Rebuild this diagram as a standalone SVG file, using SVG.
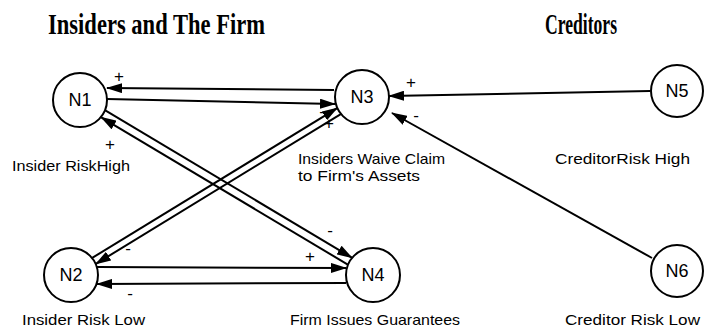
<svg xmlns="http://www.w3.org/2000/svg" width="716" height="331" viewBox="0 0 716 331">
<style>
.title{font-family:"Liberation Serif",serif;font-weight:bold;font-size:29px;fill:#000}
.node circle{fill:#fff;stroke:#000;stroke-width:2}
.node text{font-family:"Liberation Sans",Arial,sans-serif;font-size:18px;fill:#000;text-anchor:middle}
.lbl{font-family:"Liberation Sans",Arial,sans-serif;font-size:15px;fill:#000}
.sign{font-family:"Liberation Sans",Arial,sans-serif;font-size:17px;fill:#000;text-anchor:middle}
.edges line{stroke:#000;stroke-width:2;fill:none}
</style>
<defs>
<marker id="ah" markerWidth="16" markerHeight="10" refX="15" refY="5" orient="auto" markerUnits="userSpaceOnUse">
<path d="M0,0 L16,5 L0,10 Z" fill="#000"/>
</marker>
</defs>
<rect width="716" height="331" fill="#fff"/>
<text class="title" x="48" y="34" textLength="217" lengthAdjust="spacingAndGlyphs">Insiders and The Firm</text>
<text class="title" x="545" y="34" textLength="72" lengthAdjust="spacingAndGlyphs">Creditors</text>
<g class="edges">
<line x1="334" y1="90" x2="107" y2="88" marker-end="url(#ah)"/>
<line x1="107" y1="99" x2="335" y2="104" marker-end="url(#ah)"/>
<line x1="92.2" y1="257.9" x2="337.2" y2="108.1" marker-end="url(#ah)"/>
<line x1="340.8" y1="114.1" x2="95.8" y2="263.9" marker-end="url(#ah)"/>
<line x1="347.8" y1="264.6" x2="101.2" y2="117.3" marker-end="url(#ah)"/>
<line x1="105.3" y1="110.4" x2="351.9" y2="257.7" marker-end="url(#ah)"/>
<line x1="97" y1="267" x2="346" y2="268" marker-end="url(#ah)"/>
<line x1="346" y1="283" x2="97" y2="284" marker-end="url(#ah)"/>
<line x1="650" y1="91" x2="389" y2="96" marker-end="url(#ah)"/>
<line x1="652" y1="258" x2="392" y2="113" marker-end="url(#ah)"/>
</g>
<g class="signs">
<text class="sign" x="119" y="82">+</text>
<text class="sign" x="322" y="117">-</text>
<text class="sign" x="329" y="129">+</text>
<text class="sign" x="110" y="150">+</text>
<text class="sign" x="128" y="254">-</text>
<text class="sign" x="330" y="236">-</text>
<text class="sign" x="310" y="262">+</text>
<text class="sign" x="130" y="299">-</text>
<text class="sign" x="411" y="88">+</text>
<text class="sign" x="416" y="121">-</text>
</g>
<g id="N1" class="node"><circle cx="80" cy="100" r="27"/><text x="80" y="106">N1</text></g>
<g id="N3" class="node"><circle cx="362" cy="97" r="27"/><text x="362" y="103">N3</text></g>
<g id="N5" class="node"><circle cx="677" cy="91" r="26"/><text x="677" y="97">N5</text></g>
<g id="N2" class="node"><circle cx="71" cy="275" r="27"/><text x="71" y="281">N2</text></g>
<g id="N4" class="node"><circle cx="373" cy="275" r="27"/><text x="373" y="281">N4</text></g>
<g id="N6" class="node"><circle cx="677" cy="271" r="26"/><text x="677" y="277">N6</text></g>
<text class="lbl" x="12" y="171" textLength="118" lengthAdjust="spacingAndGlyphs">Insider RiskHigh</text>
<text class="lbl" x="298" y="164" textLength="147" lengthAdjust="spacingAndGlyphs">Insiders Waive Claim</text>
<text class="lbl" x="298" y="181" textLength="122" lengthAdjust="spacingAndGlyphs">to Firm's Assets</text>
<text class="lbl" x="555" y="164" textLength="135" lengthAdjust="spacingAndGlyphs">CreditorRisk High</text>
<text class="lbl" x="22" y="325" textLength="123" lengthAdjust="spacingAndGlyphs">Insider Risk Low</text>
<text class="lbl" x="290" y="325" textLength="170" lengthAdjust="spacingAndGlyphs">Firm Issues Guarantees</text>
<text class="lbl" x="565" y="325" textLength="135" lengthAdjust="spacingAndGlyphs">Creditor Risk Low</text>
</svg>
